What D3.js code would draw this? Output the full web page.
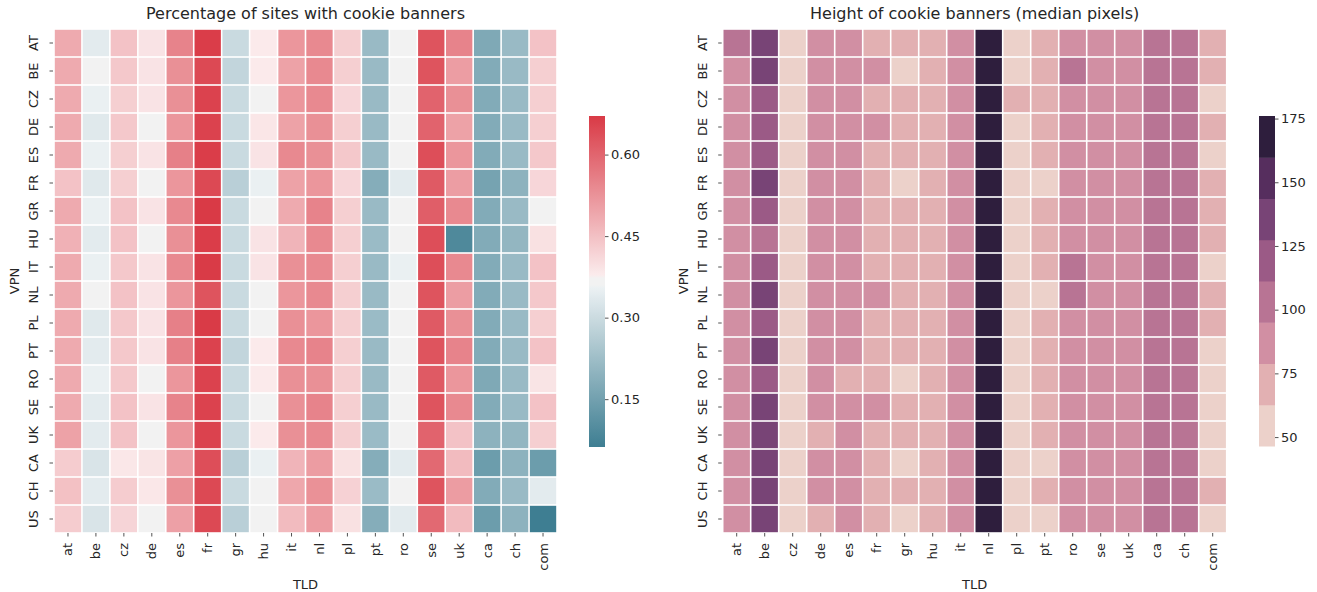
<!DOCTYPE html>
<head>
    <meta charset="utf-8"/>
    <script src="https://d3js.org/d3.v7.min.js"></script>
    <style>
        body { margin: 0; background: #fff; }
        text { font-family: "DejaVu Sans", sans-serif; fill: #262626; }
    </style>
</head>
<body>
<script>
    // lignes (VPN) et colonnes (TLD)
    var vpns = ["AT", "BE", "CZ", "DE", "ES", "FR", "GR", "HU", "IT", "NL", "PL", "PT", "RO", "SE", "UK", "CA", "CH", "US"];
    var tlds = ["at", "be", "cz", "de", "es", "fr", "gr", "hu", "it", "nl", "pl", "pt", "ro", "se", "uk", "ca", "ch", "com"];

    // part des sites avec banniere
    var pctValues = [
        [0.486, 0.341, 0.446, 0.392, 0.550, 0.666, 0.297, 0.381, 0.519, 0.541, 0.426, 0.215, 0.363, 0.628, 0.550, 0.172, 0.215, 0.446],
        [0.486, 0.363, 0.437, 0.392, 0.530, 0.646, 0.285, 0.381, 0.500, 0.541, 0.426, 0.215, 0.363, 0.628, 0.508, 0.177, 0.215, 0.426],
        [0.486, 0.352, 0.426, 0.392, 0.530, 0.657, 0.297, 0.363, 0.519, 0.541, 0.413, 0.215, 0.363, 0.603, 0.530, 0.177, 0.215, 0.426],
        [0.486, 0.335, 0.437, 0.367, 0.519, 0.657, 0.297, 0.388, 0.500, 0.530, 0.426, 0.215, 0.363, 0.603, 0.500, 0.177, 0.215, 0.426],
        [0.486, 0.352, 0.426, 0.392, 0.555, 0.666, 0.297, 0.392, 0.541, 0.530, 0.437, 0.215, 0.363, 0.638, 0.519, 0.177, 0.215, 0.437],
        [0.446, 0.335, 0.426, 0.367, 0.519, 0.646, 0.270, 0.352, 0.500, 0.519, 0.413, 0.182, 0.341, 0.618, 0.508, 0.157, 0.195, 0.413],
        [0.486, 0.352, 0.446, 0.392, 0.541, 0.671, 0.297, 0.363, 0.486, 0.550, 0.426, 0.215, 0.363, 0.612, 0.541, 0.177, 0.215, 0.366],
        [0.474, 0.341, 0.446, 0.367, 0.530, 0.666, 0.297, 0.392, 0.469, 0.541, 0.426, 0.218, 0.363, 0.638, 0.090, 0.177, 0.205, 0.396],
        [0.486, 0.352, 0.437, 0.392, 0.541, 0.669, 0.297, 0.392, 0.530, 0.541, 0.426, 0.215, 0.352, 0.638, 0.541, 0.177, 0.215, 0.446],
        [0.486, 0.363, 0.446, 0.392, 0.519, 0.628, 0.297, 0.363, 0.519, 0.541, 0.426, 0.215, 0.363, 0.628, 0.508, 0.177, 0.215, 0.437],
        [0.486, 0.335, 0.437, 0.392, 0.555, 0.669, 0.297, 0.363, 0.530, 0.519, 0.426, 0.218, 0.363, 0.618, 0.530, 0.177, 0.215, 0.426],
        [0.486, 0.341, 0.437, 0.392, 0.555, 0.657, 0.285, 0.381, 0.541, 0.550, 0.426, 0.215, 0.363, 0.628, 0.550, 0.177, 0.215, 0.446],
        [0.486, 0.352, 0.437, 0.367, 0.519, 0.657, 0.297, 0.381, 0.530, 0.530, 0.426, 0.215, 0.363, 0.618, 0.519, 0.172, 0.215, 0.391],
        [0.486, 0.341, 0.446, 0.392, 0.550, 0.657, 0.297, 0.367, 0.530, 0.550, 0.426, 0.215, 0.363, 0.628, 0.541, 0.177, 0.215, 0.446],
        [0.500, 0.341, 0.446, 0.367, 0.519, 0.657, 0.297, 0.381, 0.530, 0.541, 0.426, 0.218, 0.363, 0.603, 0.446, 0.195, 0.205, 0.426],
        [0.430, 0.323, 0.386, 0.391, 0.502, 0.638, 0.270, 0.352, 0.469, 0.510, 0.396, 0.182, 0.341, 0.594, 0.459, 0.140, 0.195, 0.140],
        [0.449, 0.341, 0.430, 0.386, 0.530, 0.646, 0.297, 0.363, 0.492, 0.528, 0.422, 0.218, 0.363, 0.628, 0.510, 0.177, 0.215, 0.341],
        [0.430, 0.323, 0.417, 0.367, 0.502, 0.646, 0.270, 0.363, 0.459, 0.510, 0.396, 0.182, 0.341, 0.594, 0.459, 0.140, 0.195, 0.062]
    ];

    // hauteur mediane des bannieres (pixels)
    var heightValues = [
        [104, 138, 53, 88, 86, 73, 72, 74, 87, 172, 55, 72, 85, 87, 86, 104, 106, 74],
        [87, 137, 52, 86, 87, 90, 58, 73, 88, 173, 56, 73, 103, 86, 88, 105, 104, 73],
        [86, 122, 54, 87, 88, 74, 72, 73, 86, 171, 71, 72, 88, 87, 86, 104, 103, 56],
        [87, 121, 53, 86, 87, 89, 73, 74, 87, 172, 56, 73, 87, 86, 87, 105, 104, 74],
        [86, 120, 52, 87, 86, 73, 72, 73, 87, 173, 55, 73, 86, 87, 86, 104, 103, 57],
        [87, 139, 53, 86, 88, 73, 57, 72, 86, 174, 54, 58, 87, 86, 87, 105, 104, 73],
        [86, 121, 52, 87, 86, 74, 72, 73, 87, 172, 56, 72, 86, 87, 86, 104, 103, 73],
        [87, 106, 53, 86, 87, 73, 73, 74, 86, 171, 55, 73, 87, 86, 87, 105, 104, 74],
        [86, 122, 54, 87, 88, 74, 72, 73, 87, 173, 55, 72, 104, 87, 86, 104, 103, 56],
        [87, 138, 53, 86, 87, 89, 73, 72, 86, 172, 56, 57, 104, 86, 87, 105, 104, 73],
        [86, 121, 52, 87, 86, 73, 72, 73, 87, 173, 55, 73, 87, 87, 86, 104, 103, 74],
        [87, 137, 53, 86, 88, 74, 73, 74, 86, 172, 56, 72, 86, 86, 87, 105, 104, 56],
        [86, 120, 54, 87, 73, 73, 56, 73, 87, 174, 55, 73, 87, 87, 86, 104, 103, 55],
        [87, 138, 52, 86, 87, 90, 72, 72, 86, 172, 54, 73, 86, 86, 87, 105, 104, 56],
        [86, 139, 53, 73, 88, 74, 73, 73, 87, 173, 56, 72, 87, 87, 86, 104, 103, 55],
        [87, 138, 53, 86, 87, 73, 57, 74, 86, 176, 55, 57, 86, 86, 87, 105, 104, 56],
        [86, 137, 54, 87, 86, 74, 72, 73, 87, 172, 56, 73, 87, 87, 86, 104, 103, 73],
        [87, 138, 46.5, 73, 88, 73, 55, 72, 86, 173, 55, 56, 86, 86, 87, 105, 104, 55]
    ];

    var pctTicks = [0.15, 0.30, 0.45, 0.60];
    var heightTicks = [50, 75, 100, 125, 150, 175];

    var width = 1317, height = 592;
    var labelSize = 13;

    var svg = d3.select("body").append("svg")
        .attr("width", width)
        .attr("height", height);

    // palette divergente : bleu -> bleu clair | gris | rose clair -> rouge
    var pctExtent = d3.extent(d3.merge(pctValues));
    var span = pctExtent[1] - pctExtent[0];
    var mid = pctExtent[0] + span / 2;
    var sep = span * 0.018;
    var pctColor = d3.scaleLinear()
        .domain([pctExtent[0], mid - sep, mid - sep + 1e-4, mid + sep - 1e-4, mid + sep, pctExtent[1]])
        .range(["#3e7e92", "#ecf1f3", "#f2f2f2", "#f2f2f2", "#fbeced", "#d93a46"])
        .interpolate(d3.interpolateRgb);

    // palette cubehelix discrete en 8 niveaux
    var heightColor = d3.scaleQuantize()
        .domain(d3.extent(d3.merge(heightValues)))
        .range(["#ecd1ca", "#e2b0b2", "#d18fa3", "#b87494", "#9b5a86", "#784476", "#562e5e", "#2e1e3d"]);

    function heatmap(opts) {
        var g = svg.append("g");
        var x = d3.scaleBand().domain(tlds).range([opts.x0, opts.x1]);
        var y = d3.scaleBand().domain(vpns).range([29, 533]);

        var cells = [];
        opts.values.forEach(function (row, i) {
            row.forEach(function (v, j) {
                cells.push({ r: vpns[i], c: tlds[j], v: v });
            });
        });

        g.selectAll("rect.cell").data(cells).join("rect")
            .attr("class", "cell")
            .attr("x", function (d) { return x(d.c) + 0.8; })
            .attr("y", function (d) { return y(d.r) + 0.8; })
            .attr("width", x.bandwidth() - 1.6)
            .attr("height", y.bandwidth() - 1.6)
            .attr("fill", function (d) { return opts.color(d.v); });

        // axe gauche
        var ay = g.append("g")
            .attr("transform", "translate(" + (opts.x0 - 1) + ",0)")
            .call(d3.axisLeft(y).tickSize(3.5).tickPadding(3));
        ay.select(".domain").remove();
        ay.selectAll("line").attr("stroke", "#262626").attr("stroke-width", 0.8);
        ay.selectAll("text")
            .attr("font-size", labelSize)
            .attr("fill", "#262626")
            .attr("x", null).attr("dy", null)
            .attr("text-anchor", "middle")
            .attr("transform", "translate(-15,0) rotate(-90)")
            .attr("y", 0);

        // axe bas
        var ax = g.append("g")
            .attr("transform", "translate(0,533)")
            .call(d3.axisBottom(x).tickSize(3.5).tickPadding(3));
        ax.select(".domain").remove();
        ax.selectAll("line").attr("stroke", "#262626").attr("stroke-width", 0.8);
        ax.selectAll("text")
            .attr("font-size", labelSize)
            .attr("fill", "#262626")
            .attr("y", 0).attr("dy", null)
            .attr("text-anchor", "end")
            .attr("transform", "translate(4.5,10) rotate(-90)");

        g.append("text")
            .attr("x", (opts.x0 + opts.x1) / 2).attr("y", 19)
            .attr("text-anchor", "middle")
            .attr("font-size", 16)
            .text(opts.title);

        g.append("text")
            .attr("x", (opts.x0 + opts.x1) / 2).attr("y", 589)
            .attr("text-anchor", "middle")
            .attr("font-size", labelSize)
            .text("TLD");

        g.append("text")
            .attr("transform", "translate(" + (opts.x0 - 35) + ",281) rotate(-90)")
            .attr("text-anchor", "middle")
            .attr("font-size", labelSize)
            .text("VPN");
    }

    heatmap({ x0: 54, x1: 557, values: pctValues, color: pctColor,
        title: "Percentage of sites with cookie banners" });
    heatmap({ x0: 722.7, x1: 1226.7, values: heightValues, color: heightColor,
        title: "Height of cookie banners (median pixels)" });

    // barre de couleur continue
    var defs = svg.append("defs");
    var grad = defs.append("linearGradient").attr("id", "pctGrad")
        .attr("x1", 0).attr("y1", 1).attr("x2", 0).attr("y2", 0);
    d3.range(0, 1.0001, 0.01).forEach(function (t) {
        grad.append("stop")
            .attr("offset", t)
            .attr("stop-color", pctColor(pctExtent[0] + t * span));
    });

    var cb1 = d3.scaleLinear().domain(pctExtent).range([447, 116]);
    svg.append("rect")
        .attr("x", 589).attr("y", 116)
        .attr("width", 16).attr("height", 331)
        .attr("fill", "url(#pctGrad)");
    var a1 = svg.append("g").attr("transform", "translate(605,0)")
        .call(d3.axisRight(cb1).tickValues(pctTicks).tickFormat(d3.format(".2f")).tickSize(3.5).tickPadding(2.5));
    a1.select(".domain").remove();
    a1.selectAll("line").attr("stroke", "#262626").attr("stroke-width", 0.8);
    a1.selectAll("text").attr("font-size", labelSize).attr("fill", "#262626");

    // barre de couleur discrete
    var cb2 = d3.scaleLinear().domain(heightColor.domain()).range([446, 116]);
    svg.append("g").selectAll("rect").data(heightColor.range()).join("rect")
        .attr("x", 1259)
        .attr("y", function (c) { return cb2(heightColor.invertExtent(c)[1]); })
        .attr("width", 16)
        .attr("height", function (c) {
            var e = heightColor.invertExtent(c);
            return cb2(e[0]) - cb2(e[1]) + 0.5;
        })
        .attr("fill", function (c) { return c; });
    var a2 = svg.append("g").attr("transform", "translate(1275,0)")
        .call(d3.axisRight(cb2).tickValues(heightTicks).tickSize(3.5).tickPadding(2.5));
    a2.select(".domain").remove();
    a2.selectAll("line").attr("stroke", "#262626").attr("stroke-width", 0.8);
    a2.selectAll("text").attr("font-size", labelSize).attr("fill", "#262626");
</script>
</body>
